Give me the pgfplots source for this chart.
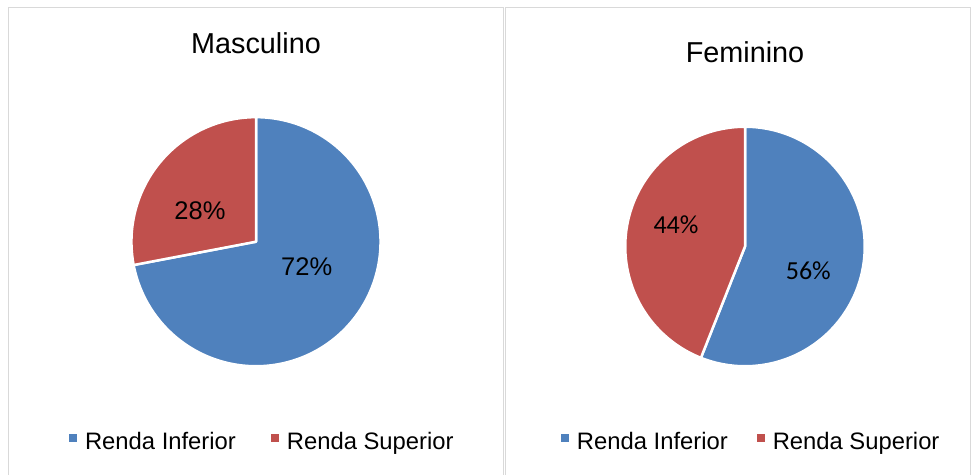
\documentclass[border=0pt]{standalone}
\usepackage{fontspec}
\setmainfont{Liberation Sans}
\newfontfamily\calibri{Carlito}
\usepackage{pgfplots}
\usepackage{pgfplotstable}
\pgfplotsset{compat=1.18}
\definecolor{cblue}{HTML}{4F81BD}
\definecolor{cred}{HTML}{C0504D}
\definecolor{cframe}{HTML}{D9D9D9}

\pgfplotstableread{
slice value
Inferior 72
Superior 28
}\masc
\pgfplotstableread{
slice value
Inferior 56
Superior 44
}\fem
\pgfplotstablegetelem{0}{value}\of\masc \edef\mInf{\pgfplotsretval}
\pgfplotstablegetelem{1}{value}\of\masc \edef\mSup{\pgfplotsretval}
\pgfplotstablegetelem{0}{value}\of\fem \edef\fInf{\pgfplotsretval}
\pgfplotstablegetelem{1}{value}\of\fem \edef\fSup{\pgfplotsretval}
\pgfmathsetmacro\mCut{90-3.6*\mInf}
\pgfmathsetmacro\mEnd{\mCut+360}
\pgfmathsetmacro\fCut{90-3.6*\fInf}
\pgfmathsetmacro\fEnd{\fCut+360}

\pgfplotsset{
  pie/.style={
    hide axis, scale only axis, clip=false, anchor=center,
    xmin=-1, xmax=1, ymin=-1, ymax=1,
    legend columns=2,
    legend style={draw=none, fill=none, inner sep=0pt, outer sep=0pt, anchor=west,
      font=\fontsize{23.8}{28}\selectfont,
      nodes={inner sep=0pt}},
    legend image code/.code={\path[draw=none, fill=none] (0pt,-9pt) rectangle (16pt,9pt);
      \path[draw=none, fill=##1] (0pt,0.25pt) rectangle (8pt,8.25pt);},
    title style={anchor=base, yshift=-5pt, font=\fontsize{28.8}{34}\selectfont},
  },
  slice/.style={fill=#1, draw=white, line width=2.5pt, line join=round, samples=150},
}

\begin{document}
\begin{tikzpicture}
\begin{scope}
\clip (0pt,0pt) rectangle (972pt,474pt);
\draw[cframe, line width=1pt] (8pt,-5pt) -- (8pt,466.5pt) -- (503pt,466.5pt) -- (503pt,-5pt);
\draw[cframe, line width=1pt] (505pt,-5pt) -- (505pt,466.5pt) -- (970.5pt,466.5pt) -- (970.5pt,-5pt);
\end{scope}

\begin{axis}[pie, at={(256pt,232.3pt)}, width=249.1pt, height=249.1pt,
  title={Masculino}, title style={at={(0.5,1.2495)}},
  legend style={at={(axis cs:-1.501,-1.608)},
    /tikz/every even column/.append style={column sep=35pt}}]
\addplot[slice=cblue, domain=\mCut:90] ({cos(x)},{sin(x)}) -- (axis cs:0,0) -- cycle;
\addlegendentry{Renda Inferior}
\addplot[slice=cred, domain=90:\mEnd] ({cos(x)},{sin(x)}) -- (axis cs:0,0) -- cycle;
\addlegendentry{Renda Superior}
\node[font=\fontsize{25.5}{30}\selectfont] at (axis cs:0.407,-0.201) {\mInf\%};
\node[font=\fontsize{25.5}{30}\selectfont] at (axis cs:-0.450,0.249) {\mSup\%};
\end{axis}

\begin{axis}[pie, at={(745pt,227.5pt)}, width=239.5pt, height=239.5pt,
  title={Feminino}, title style={at={(0.5,1.266)}},
  legend style={at={(axis cs:-1.537,-1.633)},
    /tikz/every even column/.append style={column sep=29pt}}]
\addplot[slice=cblue, domain=\fCut:90] ({cos(x)},{sin(x)}) -- (axis cs:0,0) -- cycle;
\addlegendentry{Renda Inferior}
\addplot[slice=cred, domain=90:\fEnd] ({cos(x)},{sin(x)}) -- (axis cs:0,0) -- cycle;
\addlegendentry{Renda Superior}
\node[font=\calibri\fontsize{26}{30}\selectfont] at (axis cs:0.529,-0.202) {\fInf\%};
\node[font=\calibri\fontsize{26}{30}\selectfont] at (axis cs:-0.576,0.180) {\fSup\%};
\end{axis}
\pgfresetboundingbox
\path[use as bounding box] (0pt,0pt) rectangle (972pt,474pt);
\end{tikzpicture}
\end{document}
